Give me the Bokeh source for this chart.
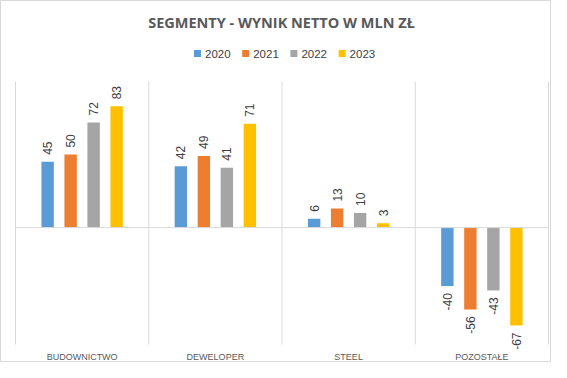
import math
from bokeh.plotting import figure
from bokeh.models import Range1d
from bokeh.core.properties import value
from bokeh.embed import file_html
from bokeh.resources import INLINE

# ---- data ----
categories = ["BUDOWNICTWO", "DEWELOPER", "STEEL", "POZOSTAŁE"]
years = ["2020", "2021", "2022", "2023"]
v2020 = [45, 42, 6, -40]
v2021 = [50, 49, 13, -56]
v2022 = [72, 41, 10, -43]
v2023 = [83, 71, 3, -67]
series = [v2020, v2021, v2022, v2023]
colors = ["#5B9BD5", "#ED7D31", "#A5A5A5", "#FFC000"]
title_text = "SEGMENTY - WYNIK NETTO W MLN ZŁ"

# ---- layout (pixels) ----
W, H = 551, 362
LEFT, RIGHT = 15, 548       # px of first / last category separator
PX_CAT = (RIGHT - LEFT) / len(categories)
Y_MAX, Y_MIN = 100, -80
TOP_PX, BOT_PX = 81, 344
PX_UNIT = (BOT_PX - TOP_PX) / (Y_MAX - Y_MIN)

x_start = -LEFT / PX_CAT
x_end = x_start + W / PX_CAT
y_end = Y_MAX + TOP_PX / PX_UNIT
y_start = Y_MIN - (H - BOT_PX) / PX_UNIT


def px_x(px):
    return x_start + px / PX_CAT


def px_y(py):
    return y_end - py / PX_UNIT


p = figure(width=W, height=H, x_range=Range1d(x_start, x_end),
           y_range=Range1d(y_start, y_end), output_backend="svg",
           toolbar_location=None, min_border=0,
           x_axis_location=None, y_axis_location=None)
p.grid.visible = False
p.outline_line_color = "#d9d9d9"
p.outline_line_width = 1
p.background_fill_color = "white"
p.border_fill_color = "white"

n = len(categories)
GAP = 23.0 / PX_CAT
BAR_W = 12.4 / PX_CAT
GRID = "#d9d9d9"

# category separators
p.segment(x0=list(range(n + 1)), y0=[Y_MIN] * (n + 1), x1=list(range(n + 1)),
          y1=[Y_MAX] * (n + 1), line_color=GRID, line_width=1)

# bars
for j, vals in enumerate(series):
    xs = [i + 0.5 + (j - 1.5) * GAP for i in range(n)]
    p.vbar(x=xs, top=vals, bottom=0, width=BAR_W, fill_color=colors[j],
           line_color=None)
    pos_x = [x for x, v in zip(xs, vals) if v >= 0]
    pos_v = [v for v in vals if v >= 0]
    neg_x = [x for x, v in zip(xs, vals) if v < 0]
    neg_v = [v for v in vals if v < 0]
    p.text(x=pos_x, y=pos_v, text=[str(v) for v in pos_v], angle=math.pi / 2,
           text_align="left", text_baseline="middle", y_offset=-7,
           text_font=value("Liberation Sans"), text_font_size="12px",
           text_color="#404040")
    p.text(x=neg_x, y=neg_v, text=[str(v) for v in neg_v], angle=math.pi / 2,
           text_align="right", text_baseline="middle", y_offset=7,
           text_font=value("Liberation Sans"), text_font_size="12px",
           text_color="#404040")

# zero line
p.segment(x0=[0], y0=[0], x1=[n], y1=[0], line_color=GRID, line_width=1)

# category labels
p.text(x=[i + 0.5 for i in range(n)], y=[px_y(356)] * n, text=categories,
       text_align="center", text_baseline="middle",
       text_font=value("Liberation Sans"), text_font_size="9px",
       text_color="#595959")

# title
p.text(x=[px_x(281)], y=[px_y(22)], text=[title_text], text_align="center",
       text_baseline="middle", text_font=value("Open Sans"),
       text_font_size="14.5px", text_font_style="bold", text_color="#595959")

# legend
LEG_X0, LEG_DX, LEG_Y = 197, 48.2, 53
for j, yr in enumerate(years):
    cx = LEG_X0 + j * LEG_DX
    p.scatter(x=[px_x(cx)], y=[px_y(LEG_Y)], marker="square", size=7,
              fill_color=colors[j], line_color=None)
    p.text(x=[px_x(cx + 7.5)], y=[px_y(LEG_Y)], text=[yr], text_align="left",
           text_baseline="middle", text_font=value("Liberation Sans"),
           text_font_size="11.5px", text_color="#404040")

open("out.html", "w").write(file_html(p, INLINE))
